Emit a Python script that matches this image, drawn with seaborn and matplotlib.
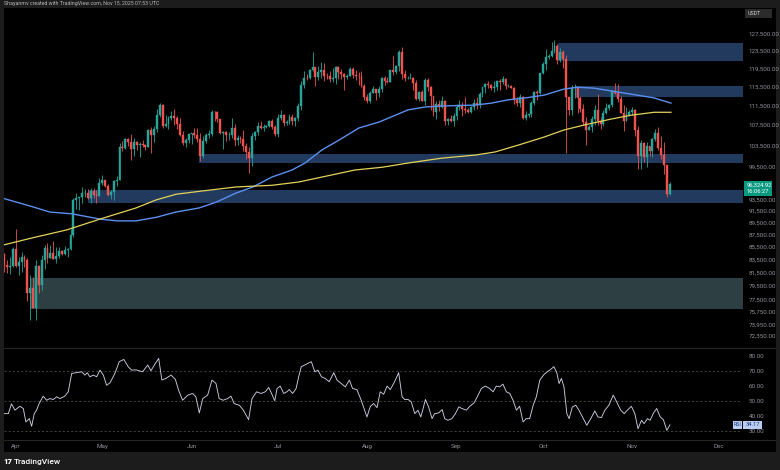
import numpy as np
import pandas as pd
import matplotlib
matplotlib.use("Agg")
import matplotlib.pyplot as plt
import matplotlib.ticker as mticker
from matplotlib.patches import Rectangle
import seaborn as sns

# ---------------- data (prices in thousand USDT) ----------------
start_date = "2025-03-29"
ref_date = "2025-04-01"

opens = [84.35, 82.65, 82.39,
         82.55, 85.16, 82.52, 83.10, 83.84, 83.50, 78.37, 79.16, 76.27, 82.57, 79.60, 83.40, 85.28, 83.74, 84.54, 83.63, 84.03, 84.94, 84.45, 85.06, 85.17, 87.51, 93.44, 93.69, 93.98, 94.64, 94.64, 93.75, 94.98, 94.28,
         94.17, 96.49, 96.91, 95.89, 94.32, 94.75, 96.83, 97.03, 103.24, 102.97, 104.70, 104.10, 102.79, 104.11, 103.51, 103.74, 103.49, 103.13, 106.45, 105.60, 106.79, 109.64, 111.70, 107.32, 107.76, 109.00, 109.43, 108.94, 107.78, 105.60, 103.99,
         104.59, 105.64, 105.88, 105.43, 104.70, 101.51, 104.29, 105.58, 105.73, 110.26, 110.20, 108.69, 105.93, 106.02, 105.47, 105.55, 106.87, 104.55, 104.88, 104.62, 103.30, 102.12, 100.96, 105.33, 106.08, 107.34, 106.95, 107.10, 107.30, 108.36,
         107.14, 105.68, 108.85, 109.60, 107.99, 108.20, 109.20, 108.26, 108.92, 111.33, 115.99, 117.52, 117.42, 119.09, 119.84, 117.68, 118.76, 119.29, 117.93, 117.92, 117.27, 117.38, 119.95, 118.75, 118.34, 117.64, 117.95, 119.45, 118.06, 117.92, 117.83,
         115.76, 113.30, 112.53, 114.21, 115.06, 114.10, 114.99, 117.50, 116.67, 116.46, 119.29, 118.69, 120.17, 123.31, 118.30, 117.34, 117.38, 117.49, 116.27, 112.87, 114.27, 112.50, 116.94, 115.37, 113.49, 110.11, 111.76, 111.26, 112.56, 108.38, 108.82,
         108.25, 109.24, 111.24, 111.70, 110.72, 110.66, 110.19, 111.14, 112.06, 111.55, 113.96, 115.50, 116.03, 115.95, 115.27, 115.35, 116.79, 116.47, 117.14, 115.69, 115.71, 115.31, 112.75, 112.01, 113.33, 108.99, 109.64, 109.68, 112.12, 114.40,
         114.05, 118.60, 120.53, 122.23, 122.39, 123.48, 124.66, 121.40, 123.31, 121.70, 113.20, 110.64, 115.17, 115.27, 113.12, 110.76, 108.19, 106.43, 107.19, 108.64, 110.53, 108.41, 107.62, 110.05, 111.03, 111.65, 114.53, 114.11, 112.90, 110.05, 108.30,
         109.61, 110.10, 110.60, 106.50, 101.50, 103.90, 101.30, 103.30, 102.30, 104.70, 106.00, 103.00, 101.60, 99.70, 94.40]

highs = [84.57, 83.50, 83.95,
         85.50, 88.50, 83.90, 84.70, 84.20, 83.80, 81.20, 80.80, 83.50, 82.70, 84.30, 85.90, 86.10, 85.80, 86.50, 85.50, 85.50, 85.10, 85.60, 85.30, 88.50, 93.80, 94.70, 94.00, 95.70, 95.30, 95.40, 95.60, 95.50, 95.20,
         97.40, 97.90, 96.95, 96.30, 95.20, 96.90, 97.70, 104.00, 104.30, 104.90, 104.90, 105.80, 104.90, 104.40, 104.20, 104.50, 103.70, 106.70, 107.10, 107.30, 110.80, 111.98, 111.80, 109.50, 109.30, 110.40, 110.70, 109.30, 108.90, 106.30, 104.90,
         105.90, 105.90, 106.80, 106.80, 105.90, 105.30, 105.90, 106.40, 110.50, 110.40, 110.40, 108.80, 106.20, 106.20, 106.10, 108.90, 107.70, 105.60, 105.30, 106.50, 104.00, 103.10, 106.00, 106.30, 108.10, 108.30, 107.70, 107.60, 108.50, 108.80,
         107.50, 109.80, 110.50, 109.80, 108.50, 109.70, 109.70, 109.20, 111.99, 116.80, 118.90, 118.20, 119.50, 123.20, 119.90, 120.00, 120.99, 120.80, 118.60, 118.90, 119.70, 120.20, 120.10, 119.50, 118.50, 118.30, 119.80, 119.80, 119.30, 118.80, 118.90,
         116.00, 114.00, 114.60, 115.70, 115.10, 115.70, 117.60, 117.90, 117.60, 119.30, 122.30, 120.30, 123.70, 124.50, 119.20, 117.90, 118.60, 117.60, 117.00, 114.60, 114.80, 117.40, 117.40, 115.60, 113.60, 112.40, 112.60, 113.50, 112.60, 108.90, 109.50,
         109.90, 111.80, 112.60, 112.20, 113.40, 111.00, 111.50, 112.90, 113.20, 114.30, 115.50, 116.30, 116.80, 116.10, 116.80, 117.00, 117.30, 117.90, 117.50, 116.20, 115.90, 115.40, 113.30, 114.00, 113.50, 110.30, 109.80, 112.40, 114.50, 114.80,
         118.60, 121.00, 123.90, 122.90, 125.70, 126.20, 125.10, 124.20, 123.80, 122.60, 113.40, 115.80, 116.00, 115.50, 113.60, 111.90, 109.20, 107.50, 109.40, 111.70, 114.00, 109.20, 110.50, 112.00, 111.90, 114.90, 116.40, 116.10, 113.60, 111.60, 111.20,
         110.60, 111.20, 110.80, 107.30, 104.50, 104.20, 104.10, 103.40, 105.00, 106.70, 107.00, 105.30, 104.10, 99.80, 96.60]

lows = [81.65, 81.40, 81.30,
        82.40, 82.30, 81.20, 81.60, 82.40, 77.20, 74.50, 76.20, 74.60, 78.40, 78.90, 82.00, 83.00, 83.70, 83.60, 83.00, 83.80, 84.20, 84.30, 83.90, 85.10, 87.10, 91.90, 91.70, 92.80, 93.90, 93.60, 92.90, 93.80, 92.90,
        94.10, 96.00, 95.70, 94.10, 93.50, 93.40, 95.80, 96.90, 102.30, 102.80, 103.40, 100.70, 101.40, 102.60, 101.30, 103.10, 102.60, 103.10, 102.00, 104.20, 106.10, 109.20, 106.80, 107.00, 106.60, 108.60, 107.50, 106.70, 105.30, 103.60, 103.10,
        103.90, 103.70, 104.90, 104.20, 100.40, 101.10, 103.90, 104.90, 105.30, 108.30, 108.10, 105.70, 102.70, 104.30, 104.50, 104.98, 103.40, 103.50, 103.90, 102.30, 100.80, 98.20, 99.60, 104.60, 105.60, 106.60, 106.30, 106.80, 107.20, 106.70,
        105.30, 105.10, 108.60, 107.30, 107.50, 107.80, 107.50, 107.40, 108.40, 110.60, 115.20, 116.90, 117.30, 118.90, 115.70, 116.90, 117.40, 116.80, 117.30, 116.60, 116.50, 116.20, 117.30, 117.10, 114.70, 117.20, 117.80, 117.40, 116.90, 115.80, 115.50,
        112.70, 112.00, 112.00, 114.10, 112.60, 113.40, 114.30, 115.90, 116.30, 116.50, 118.10, 118.20, 118.90, 117.20, 116.80, 117.10, 117.20, 114.70, 112.70, 112.40, 112.40, 111.70, 114.60, 110.60, 109.30, 108.70, 110.40, 110.90, 107.50, 107.50, 108.10,
        107.30, 108.60, 110.60, 109.30, 110.00, 109.90, 110.00, 110.60, 110.80, 110.90, 113.40, 114.10, 115.20, 114.80, 114.40, 114.80, 114.70, 116.20, 115.10, 115.50, 115.20, 111.90, 111.50, 111.10, 108.70, 108.60, 109.10, 109.20, 111.60, 112.70,
        113.90, 118.30, 119.20, 121.60, 122.20, 123.10, 120.60, 121.10, 119.60, 102.00, 109.60, 109.60, 113.00, 109.90, 110.20, 107.50, 103.50, 106.40, 106.10, 107.50, 107.50, 106.70, 107.40, 109.70, 110.60, 111.30, 113.90, 112.20, 109.90, 106.30, 108.30,
        109.40, 109.50, 105.30, 98.90, 98.90, 100.30, 99.30, 101.40, 101.30, 104.30, 102.50, 100.80, 98.00, 94.00, 94.30]

closes = [82.65, 82.39, 82.55,
          85.16, 82.52, 83.10, 83.84, 83.50, 78.37, 79.16, 76.27, 82.57, 79.60, 83.40, 85.28, 83.74, 84.54, 83.63, 84.03, 84.94, 84.45, 85.06, 85.17, 87.51, 93.44, 93.69, 93.98, 94.64, 94.64, 93.75, 94.98, 94.28, 94.17,
          96.49, 96.91, 95.89, 94.32, 94.75, 96.83, 97.03, 103.24, 102.97, 104.70, 104.10, 102.79, 104.11, 103.51, 103.74, 103.49, 103.13, 106.45, 105.60, 106.79, 109.64, 111.70, 107.32, 107.76, 109.00, 109.43, 108.94, 107.78, 105.60, 103.99, 104.59,
          105.64, 105.88, 105.43, 104.70, 101.51, 104.29, 105.58, 105.73, 110.26, 110.20, 108.69, 105.93, 106.02, 105.47, 105.55, 106.87, 104.55, 104.88, 104.62, 103.30, 102.12, 100.96, 105.33, 106.08, 107.34, 106.95, 107.10, 107.30, 108.36, 107.14,
          105.68, 108.85, 109.60, 107.99, 108.20, 109.20, 108.26, 108.92, 111.33, 115.99, 117.52, 117.42, 119.09, 119.84, 117.68, 118.76, 119.29, 117.93, 117.92, 117.27, 117.38, 119.95, 118.75, 118.34, 117.64, 117.95, 119.45, 118.06, 117.92, 117.83, 115.76,
          113.30, 112.53, 114.21, 115.06, 114.10, 114.99, 117.50, 116.67, 116.46, 119.29, 118.69, 120.17, 123.31, 118.30, 117.34, 117.38, 117.49, 116.27, 112.87, 114.27, 112.50, 116.94, 115.37, 113.49, 110.11, 111.76, 111.26, 112.56, 108.38, 108.82, 108.25,
          109.24, 111.24, 111.70, 110.72, 110.66, 110.19, 111.14, 112.06, 111.55, 113.96, 115.50, 116.03, 115.95, 115.27, 115.35, 116.79, 116.47, 117.14, 115.69, 115.71, 115.31, 112.75, 112.01, 113.33, 108.99, 109.64, 109.68, 112.12, 114.40, 114.05,
          118.60, 120.53, 122.23, 122.39, 123.48, 124.66, 121.40, 123.31, 121.70, 113.20, 110.64, 115.17, 115.27, 113.12, 110.76, 108.19, 106.43, 107.19, 108.64, 110.53, 108.41, 107.62, 110.05, 111.03, 111.65, 114.53, 114.11, 112.90, 110.05, 108.30, 109.61,
          110.10, 110.60, 106.50, 101.50, 103.90, 101.30, 103.30, 102.30, 104.70, 106.00, 103.00, 101.60, 99.70, 94.40, 96.32]

# moving averages (days since Apr 1, value in k)
ma_blue_days = [-3.5, 6.9, 12.8, 20.5, 30.2, 36.1, 42.7, 49.7, 56.6, 64.6, 70.5, 77.4, 83.3, 89.9, 96.9, 101.4, 107.3, 113.2, 120.1, 127.1, 137.2, 143.1, 148.6, 160.4, 166.0, 171.9, 177.8, 184.4, 191.3, 195.8, 201.7, 209.7, 216.7, 222.6, 228.5]
ma_blue_vals = [93.7, 92.2, 91.3, 91.0, 90.1, 89.8, 89.8, 90.4, 91.3, 92.0, 93.0, 94.6, 95.7, 97.5, 98.8, 100.1, 102.6, 104.5, 106.9, 108.1, 110.6, 111.2, 111.4, 111.6, 112.0, 112.7, 113.1, 113.7, 115.0, 115.4, 115.2, 114.4, 113.7, 113.1, 112.0]
ma_yellow_days = [-3.5, 6.9, 18.75, 30.2, 42.7, 49.7, 56.6, 66.0, 77.4, 89.9, 99.3, 107.3, 118.75, 128.1, 137.2, 148.6, 160.4, 167.4, 175.3, 184.4, 191.3, 198.3, 207.6, 214.6, 222.6, 228.5]
ma_yellow_vals = [85.8, 87.0, 88.3, 90.1, 92.0, 93.4, 94.4, 95.0, 95.7, 96.0, 96.6, 97.5, 98.8, 99.3, 100.1, 101.0, 101.6, 102.2, 103.5, 105.1, 106.5, 107.5, 108.7, 109.5, 110.1, 110.1]

# RSI (days since Apr 1)
rsi_days = [-3.0, -1.6, -0.5, 0.7, 2.4, 3.6, 4.5, 5.7, 6.5, 7.4, 8.2, 9.1, 10.5, 11.7, 12.8, 14.0, 15.2, 16.3, 18.0, 19.2, 20.4, 22.1, 23.9, 25.0, 25.8, 26.7, 27.9, 29.1, 30.2, 31.4, 32.5, 33.7, 35.4, 36.9, 38.5, 40.0, 41.2, 42.7,
            45.0, 46.8, 47.9, 49.1, 50.6, 51.7, 53.1, 54.9, 56.4, 57.5, 58.9, 60.7, 62.4, 63.5, 64.7, 65.9, 67.6, 69.1, 70.5, 71.6, 73.0, 74.5, 75.7, 76.8, 78.6, 80.0, 81.8, 83.0, 84.6, 86.1, 87.6, 88.8, 89.9,
            90.9, 91.7, 92.8, 94.0, 95.1, 95.9, 97.1, 98.3, 99.2, 100.1, 101.3, 102.4, 103.6, 104.8, 105.9, 107.1, 108.4, 109.8, 111.4, 112.5, 114.0, 115.4, 116.8, 117.9, 119.4, 120.9, 122.1, 122.9, 124.1, 125.2, 126.4, 127.5, 128.7, 129.9, 131.0, 132.5, 133.9, 135.1, 136.0, 137.2,
            138.3, 139.5, 140.6, 141.6, 142.4, 143.2, 144.3, 145.5, 146.4, 147.8, 149.0, 149.9, 151.0, 152.4, 153.6, 154.8, 155.9, 157.4, 158.6, 160.1, 161.5, 162.6, 164.0, 165.5, 166.7, 167.8, 169.0, 170.1, 171.3, 172.5, 173.6, 174.8, 175.9, 177.1, 178.2, 179.4, 180.6, 181.7, 182.9, 184.4,
            185.5, 186.7, 187.8, 188.8, 189.6, 190.4, 191.3, 192.3, 193.1, 194.2, 195.4, 196.5, 197.7, 199.2, 200.6, 202.0, 203.1, 204.3, 205.5, 206.9, 208.4, 209.6, 211.0, 212.2, 213.3, 214.7, 215.9, 217.0, 218.2, 219.1, 220.3, 221.2, 222.4, 223.5, 224.7, 225.8, 227.0, 228.1]
rsi_vals = [41.5, 41.5, 48.0, 43.8, 46.4, 44.9, 36.0, 38.2, 33.1, 41.5, 43.8, 48.2, 53.1, 50.4, 51.5, 50.9, 52.7, 51.5, 53.1, 56.0, 68.2, 68.7, 69.3, 67.1, 68.7, 66.0, 67.1, 66.0, 70.4, 67.1, 60.4, 62.0, 68.2, 76.0, 77.5, 72.7, 70.4, 70.6,
            69.3, 73.8, 70.0, 73.8, 78.2, 63.8, 64.9, 67.1, 64.2, 57.1, 50.4, 53.8, 54.9, 52.7, 42.0, 51.5, 53.8, 63.8, 61.5, 51.5, 50.4, 51.5, 53.1, 48.2, 47.1, 43.8, 37.5, 51.5, 56.0, 54.9, 56.0, 58.9, 54.4,
            50.0, 58.2, 59.8, 54.9, 56.0, 57.5, 54.9, 58.2, 66.0, 72.7, 73.8, 74.9, 76.0, 69.3, 70.4, 66.0, 64.9, 62.7, 68.7, 63.8, 61.5, 59.3, 63.8, 58.2, 57.5, 50.4, 43.8, 39.3, 46.4, 48.2, 45.5, 56.0, 54.4, 59.8, 57.5, 62.7, 68.7, 52.7, 50.9, 50.9,
            49.3, 41.5, 43.8, 39.3, 44.9, 50.9, 46.0, 38.2, 41.5, 42.0, 44.2, 38.2, 37.1, 38.2, 41.5, 46.0, 44.9, 43.8, 46.4, 48.7, 53.8, 58.2, 59.8, 58.2, 56.0, 59.8, 59.3, 61.1, 56.0, 54.9, 50.4, 43.8, 46.4, 36.0, 38.2, 38.2, 47.1, 52.7, 63.8, 67.6,
            69.3, 70.9, 72.7, 68.7, 61.5, 64.9, 59.3, 41.5, 38.2, 46.0, 47.1, 43.8, 39.3, 33.8, 38.2, 43.3, 39.3, 38.9, 43.8, 47.1, 53.8, 49.3, 43.8, 41.5, 43.8, 46.4, 41.5, 31.5, 37.1, 34.9, 38.2, 37.1, 42.0, 44.9, 39.3, 37.5, 30.4, 34.17]

# supply / demand zones: (start day, low k, high k)
zone_starts = [189.2, 195.1, 64.6, 26.0, 5.9]
zone_lows = [121.2, 113.3, 100.15, 92.8, 76.1]
zone_highs = [125.3, 115.7, 101.8, 95.1, 80.7]
zone_kinds = ["blue", "blue", "blue", "blue", "grey"]

price_ticks = [127500, 123500, 119500, 115500, 111500, 107500, 103500, 99500, 93500, 91500, 89500,
               87500, 85500, 83500, 81500, 79500, 77500, 75750, 73950, 72350]
rsi_ticks = [80, 70, 60, 50, 40, 30]
month_labels = ["Apr", "May", "Jun", "Jul", "Aug", "Sep", "Oct", "Nov", "Dec"]

last_price_label = "96,324.92"
countdown_label = "16:06:27"
rsi_last_label = "34.17"
header_text = "Shayanmv created with TradingView.com, Nov 15, 2025 07:53 UTC"

# ---------------- styling ----------------
FRAME = "#1c1c1c"
UP = "#26a69a"
DOWN = "#ef5350"
BLUE_MA = "#5b8ff0"
YELLOW_MA = "#e3d25a"
ZONE_BLUE = "#223a5e"
ZONE_GREY = "#2d3f42"
TXT = "#8e9199"

sns.set_theme(style="dark", rc={"axes.facecolor": "black", "figure.facecolor": FRAME,
                                "axes.edgecolor": "#2a2a2a", "axes.grid": False})
plt.rcParams["font.family"] = ["Roboto", "DejaVu Sans"]

W, H = 780, 470
fig = plt.figure(figsize=(W / 100, H / 100), dpi=100)
fig.patch.set_facecolor(FRAME)
fig.patches.append(Rectangle((4 / W, 1 - 452 / H), 772 / W, 444 / H, transform=fig.transFigure,
                             facecolor="black", edgecolor="none", zorder=-10))

ax = fig.add_axes([4 / W, 1 - 348 / H, 738 / W, 340 / H])
rax = fig.add_axes([4 / W, 1 - 440 / H, 738 / W, 92 / H], sharex=ax)
for a in (ax, rax):
    a.set_facecolor("black")
    for s in a.spines.values():
        s.set_visible(False)

# ---------------- build frame ----------------
dates = pd.date_range(start_date, periods=len(closes), freq="D")
day = np.asarray((dates - pd.Timestamp(ref_date)).days, dtype=float)
df = pd.DataFrame({"day": day, "open": np.array(opens) * 1000, "high": np.array(highs) * 1000,
                   "low": np.array(lows) * 1000, "close": np.array(closes) * 1000})
df["up"] = df["close"] >= df["open"]
colors = np.where(df["up"], UP, DOWN)

x_lo, x_hi = -3.1, 253.1

# zones
for s0, lo, hi, kind in zip(zone_starts, zone_lows, zone_highs, zone_kinds):
    ax.fill_between([s0, x_hi + 5], lo * 1000, hi * 1000,
                    color=ZONE_BLUE if kind == "blue" else ZONE_GREY, linewidth=0, zorder=1)

# candles
ax.vlines(df["day"], df["low"], df["high"], colors=colors, linewidth=0.6, zorder=3)
body_lo = np.minimum(df["open"], df["close"])
body_h = np.abs(df["close"] - df["open"])
ax.bar(df["day"], body_h, bottom=body_lo, width=0.66, color=colors, edgecolor=colors,
       linewidth=0.3, zorder=4)

# moving averages
sns.lineplot(x=ma_blue_days, y=np.array(ma_blue_vals) * 1000, ax=ax, color=BLUE_MA, linewidth=1.0,
             sort=False, zorder=5)
sns.lineplot(x=ma_yellow_days, y=np.array(ma_yellow_vals) * 1000, ax=ax, color=YELLOW_MA, linewidth=0.9,
             sort=False, zorder=5)

ax.set_yscale("log")
ax.set_ylim(70740, 133900)
ax.set_xlim(x_lo, x_hi)
ax.yaxis.tick_right()
ax.yaxis.set_major_locator(mticker.FixedLocator(price_ticks))
ax.yaxis.set_minor_locator(mticker.NullLocator())
ax.yaxis.set_major_formatter(mticker.FuncFormatter(lambda v, p: f"{v:,.2f}"))
ax.tick_params(axis="y", which="both", length=0, pad=5, labelsize=4.5, labelcolor=TXT)
ax.tick_params(axis="x", which="both", length=0, labelbottom=False)
ax.set_xlabel("")
ax.set_ylabel("")

# RSI panel
for lvl in (70, 50, 30):
    rax.axhline(lvl, color="#4a4a4a", linewidth=0.6, linestyle=(0, (2.5, 2.5)), zorder=1)
sns.lineplot(x=rsi_days, y=rsi_vals, ax=rax, color="#c9cce0", linewidth=0.65, sort=False, zorder=3)
rax.set_ylim(24, 85.1)
rax.yaxis.tick_right()
rax.yaxis.set_major_locator(mticker.FixedLocator(rsi_ticks))
rax.yaxis.set_major_formatter(mticker.FuncFormatter(lambda v, p: f"{v:.2f}"))
rax.tick_params(axis="y", length=0, pad=5, labelsize=4.5, labelcolor=TXT)
month_pos = np.asarray((pd.date_range("2025-04-01", "2025-12-01", freq="MS") - pd.Timestamp(ref_date)).days,
                       dtype=float)
rax.set_xticks(month_pos + 1.0)
rax.set_xticklabels(month_labels)
rax.tick_params(axis="x", length=0, pad=3, labelsize=4.5, labelcolor=TXT)
rax.set_xlabel("")
rax.set_ylabel("")
rax.set_xlim(x_lo, x_hi)

# separators
fig.add_artist(plt.Line2D([4 / W, 776 / W], [1 - 348 / H] * 2, color="#262626", linewidth=0.8))
fig.add_artist(plt.Line2D([4 / W, 776 / W], [1 - 440 / H] * 2, color="#262626", linewidth=0.8))

# right-axis boxes
def fig_box(x0, y0, x1, y1, color):
    fig.patches.append(Rectangle((x0 / W, 1 - y1 / H), (x1 - x0) / W, (y1 - y0) / H,
                                 transform=fig.transFigure, facecolor=color, edgecolor="none", zorder=5))

fig_box(745, 9, 772, 18, "#2b2b2b")
fig.text(748 / W, 1 - 13.5 / H, "USDT", fontsize=3.8, color="#d0d0d0", va="center", ha="left", zorder=6)
fig_box(744, 181, 772, 196, "#089981")
fig.text(747 / W, 1 - 185 / H, last_price_label, fontsize=4.2, color="white", va="center", ha="left", zorder=6)
fig.text(747 / W, 1 - 191.5 / H, countdown_label, fontsize=4.2, color="white", va="center", ha="left", zorder=6)
fig_box(733, 421, 742, 428.5, "#b9cdf2")
fig.text(737.5 / W, 1 - 424.8 / H, "RSI", fontsize=3.8, color="#1e3a78", va="center", ha="center", zorder=6)
fig_box(743, 421, 762, 428.5, "#b9cdf2")
fig.text(752.5 / W, 1 - 424.8 / H, rsi_last_label, fontsize=4.2, color="#1e3a78", va="center", ha="center", zorder=6)

# header & footer
fig.text(4 / W, 1 - 4 / H, header_text, fontsize=3.8, color="#b8b8b8", va="center", ha="left")
fig.text(3 / W, 1 - 462 / H, "17", fontsize=5.6, color="white", va="center", ha="left", fontweight="heavy")
fig.text(14 / W, 1 - 462 / H, "TradingView", fontsize=6.0, color="white", va="center", ha="left",
         fontweight="medium")

fig.savefig("out.png", dpi=100, facecolor=FRAME)
